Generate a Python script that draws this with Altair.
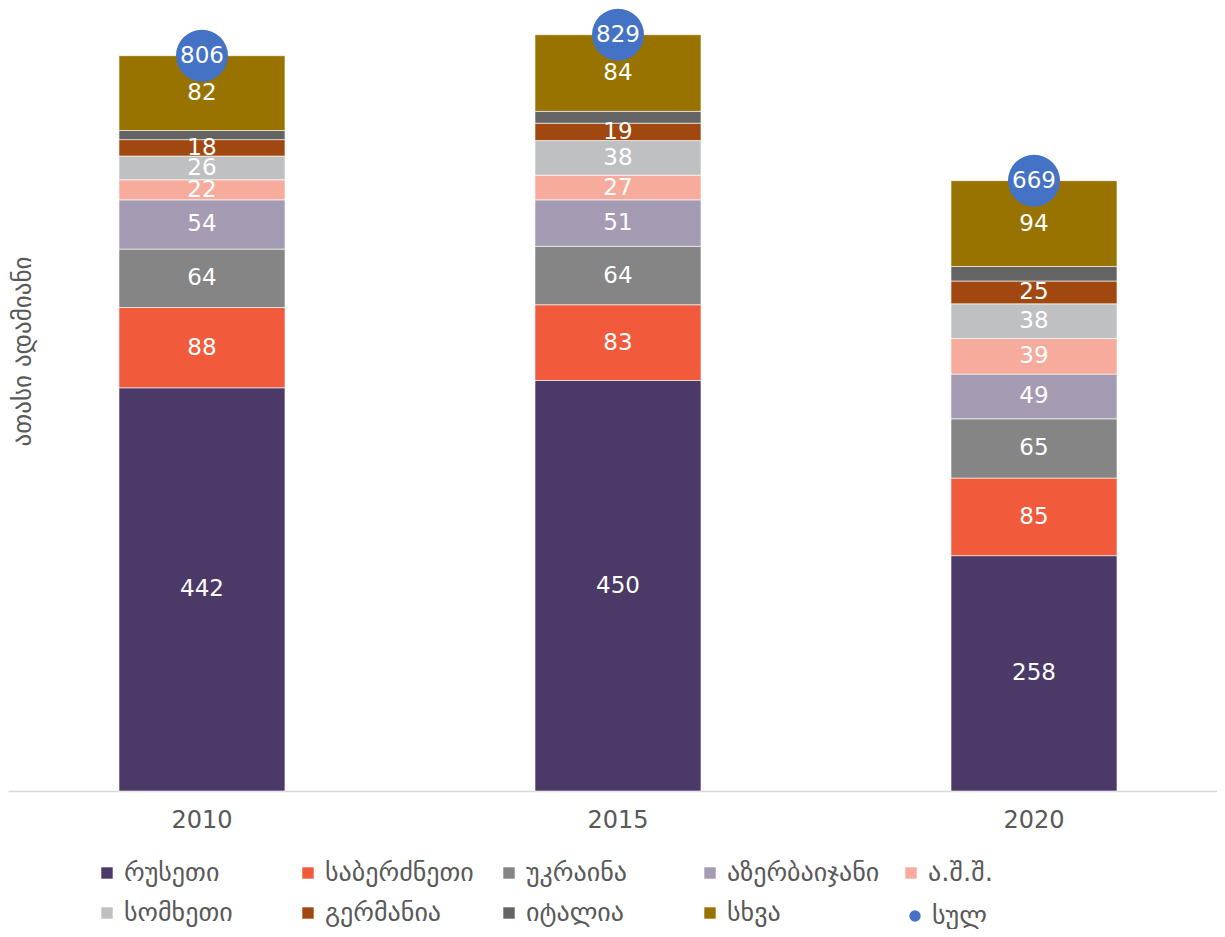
import altair as alt
import pandas as pd

years = ["2010", "2015", "2020"]
countries = ["რუსეთი", "საბერძნეთი", "უკრაინა", "აზერბაიჯანი", "ა.შ.შ.",
             "სომხეთი", "გერმანია", "იტალია", "სხვა"]
colors = ["#4B3A67", "#F15A3A", "#858585", "#A59BB3", "#F7AB9C",
          "#BFC0C1", "#A0480F", "#646464", "#997300"]
russia = [442, 450, 258]
greece = [88, 83, 85]
ukraine = [64, 64, 65]
azerbaijan = [54, 51, 49]
usa = [22, 27, 39]
armenia = [26, 38, 38]
germany = [18, 19, 25]
italy = [10, 13, 16]
other = [82, 84, 94]
totals = [806, 829, 669]
total_label = "სულ"
total_color = "#4472C4"
unlabelled = ["იტალია"]

series = [russia, greece, ukraine, azerbaijan, usa, armenia, germany, italy, other]
rows = []
for i, (c, vals) in enumerate(zip(countries, series)):
    for y, v in zip(years, vals):
        rows.append({"year": y, "country": c, "value": v, "idx": i,
                     "show": c not in unlabelled})
df = pd.DataFrame(rows)
tdf = pd.DataFrame({"year": years, "total": totals, "label": [total_label] * 3})

FONT = "DejaVu Sans"
GREY = "#595959"

x_enc = alt.X("year:N", sort=years,
              scale=alt.Scale(paddingInner=0.601, paddingOuter=0.2536, align=0.526),
              axis=alt.Axis(title=None, labelAngle=0, ticks=False, domainColor="#D9D9D9",
                            domainWidth=1.5, labelFontSize=24, labelColor=GREY,
                            labelFont=FONT, labelPadding=17, grid=False))
y_axis = alt.Axis(title="ათასი ადამიანი", labels=False, ticks=False, domain=False,
                  grid=False, titleX=14, titleY=340, titleAngle=-90,
                  titleBaseline="middle", titleFontSize=25, titleFont=FONT,
                  titleColor=GREY, titleFontWeight="normal")
y_scale = alt.Scale(domain=[0, 855], nice=False, zero=True)

bars = alt.Chart(df).mark_bar(size=166, stroke="white", strokeWidth=0.6).encode(
    x=x_enc,
    y=alt.Y("value:Q", stack="zero", scale=y_scale, axis=y_axis),
    color=alt.Color("country:N",
                    scale=alt.Scale(domain=countries, range=colors),
                    legend=alt.Legend(title=None, orient="none", legendX=86, legendY=849,
                                      direction="horizontal",
                                      columns=5, symbolType="square", symbolSize=130,
                                      symbolStrokeWidth=0, labelFontSize=26,
                                      labelColor=GREY, labelFont=FONT, gridAlign="all",
                                      columnPadding=18, rowPadding=14, labelOffset=4,
                                      labelLimit=400, padding=0)),
    order=alt.Order("idx:Q", sort="ascending"),
)

labels = alt.Chart(df).transform_stack(
    stack="value", groupby=["year"], sort=[alt.SortField("idx", order="ascending")],
    as_=["v0", "v1"]
).transform_calculate(mid="(datum.v0 + datum.v1) / 2").transform_filter(
    "datum.show"
).mark_text(color="white", fontSize=23, font=FONT).encode(
    x=x_enc,
    y=alt.Y("mid:Q", scale=y_scale, axis=y_axis),
    text=alt.Text("value:Q"),
)

circles = alt.Chart(tdf).mark_circle(size=2704, opacity=1).encode(
    x=x_enc,
    y=alt.Y("total:Q", scale=y_scale, axis=y_axis),
    color=alt.Color("label:N",
                    scale=alt.Scale(domain=[total_label], range=[total_color]),
                    legend=alt.Legend(title=None, orient="none", legendX=894, legendY=892,
                                      symbolType="circle", symbolSize=130,
                                      symbolStrokeWidth=0, labelFontSize=26,
                                      labelColor=GREY, labelFont=FONT, labelOffset=4,
                                      padding=0)),
)

circle_text = alt.Chart(tdf).mark_text(color="white", fontSize=23, font=FONT).encode(
    x=x_enc,
    y=alt.Y("total:Q", scale=y_scale, axis=y_axis),
    text=alt.Text("total:Q"),
)

chart = alt.layer(bars, labels, circles, circle_text).resolve_scale(
    color="independent"
).properties(width=1209, height=780, padding=0).configure_view(stroke=None)

chart.save("out.html", embed_options={"renderer": "svg", "actions": False})
